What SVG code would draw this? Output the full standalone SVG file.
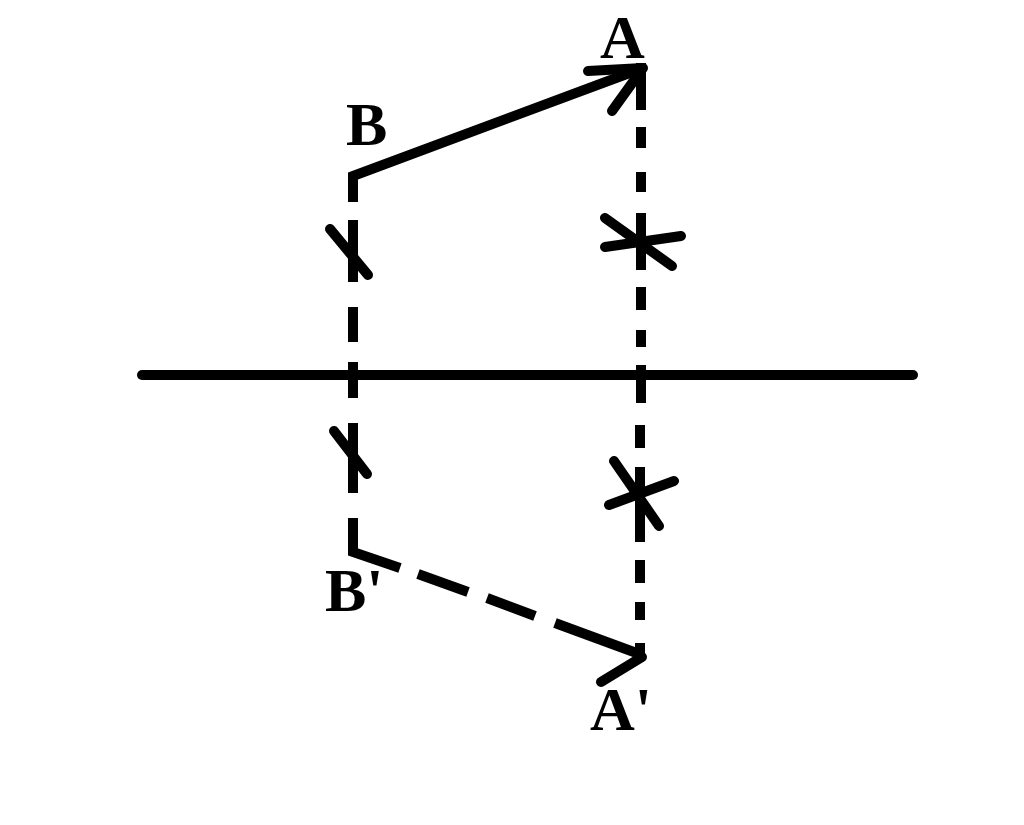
<svg xmlns="http://www.w3.org/2000/svg" width="1024" height="825" viewBox="0 0 1024 825">
<style>
.s{stroke:#000;stroke-width:10;fill:none;stroke-linecap:butt}
.r{stroke:#000;stroke-width:10;fill:none;stroke-linecap:round}
.t{font-family:"Liberation Serif","Times New Roman",serif;font-size:62px;font-weight:bold;fill:#000}
</style>
<rect width="1024" height="825" fill="#fff"/>
<g id="axis"><line class="r" x1="142" y1="375" x2="913" y2="375"/></g>
<g id="connectors">
<path class="s" d="M643,68 L353,176 L353,202"/>
<path class="r" d="M588,71 L643,68 M612,111 L643,68"/>
<line class="s" x1="353" y1="220" x2="353" y2="282"/>
<line class="r" x1="330" y1="229" x2="368" y2="275"/>
<line class="s" x1="353" y1="307" x2="353" y2="342"/>
<line class="s" x1="353" y1="362" x2="353" y2="398"/>
<line class="s" x1="353" y1="423" x2="353" y2="493"/>
<line class="r" x1="334" y1="431" x2="367" y2="474"/>
<path class="s" d="M353,518 L353,552 L400,568"/>
<line class="s" x1="418" y1="574" x2="468" y2="592"/>
<line class="s" x1="487" y1="598" x2="535" y2="616"/>
<line class="s" x1="555" y1="623" x2="642" y2="655"/>
<line class="r" x1="601" y1="682" x2="642" y2="657"/>
<line class="s" x1="641" y1="63" x2="641" y2="110"/>
<line class="s" x1="641" y1="127" x2="641" y2="148"/>
<line class="s" x1="641" y1="172" x2="641" y2="192"/>
<line class="s" x1="641" y1="213" x2="641" y2="270"/>
<line class="r" x1="605" y1="218" x2="672" y2="266"/>
<line class="r" x1="605" y1="247" x2="681" y2="236"/>
<line class="s" x1="641" y1="287" x2="641" y2="310"/>
<line class="s" x1="641" y1="330" x2="641" y2="347"/>
<line class="s" x1="641" y1="365" x2="641" y2="403"/>
<line class="s" x1="640" y1="425" x2="640" y2="448"/>
<line class="s" x1="640" y1="467" x2="640" y2="542"/>
<line class="r" x1="614" y1="461" x2="659" y2="526"/>
<line class="r" x1="609" y1="505" x2="674" y2="481"/>
<line class="s" x1="640" y1="560" x2="640" y2="583"/>
<line class="s" x1="640" y1="602" x2="640" y2="620"/>
<line class="s" x1="640" y1="643" x2="640" y2="657"/>
</g>
<g id="label-A"><text class="t" x="600" y="58">A</text></g>
<g id="label-B"><text class="t" x="346" y="145">B</text></g>
<g id="label-B-prime"><text class="t" x="325" y="611">B'</text></g>
<g id="label-A-prime"><text class="t" x="590" y="730">A'</text></g>
</svg>
